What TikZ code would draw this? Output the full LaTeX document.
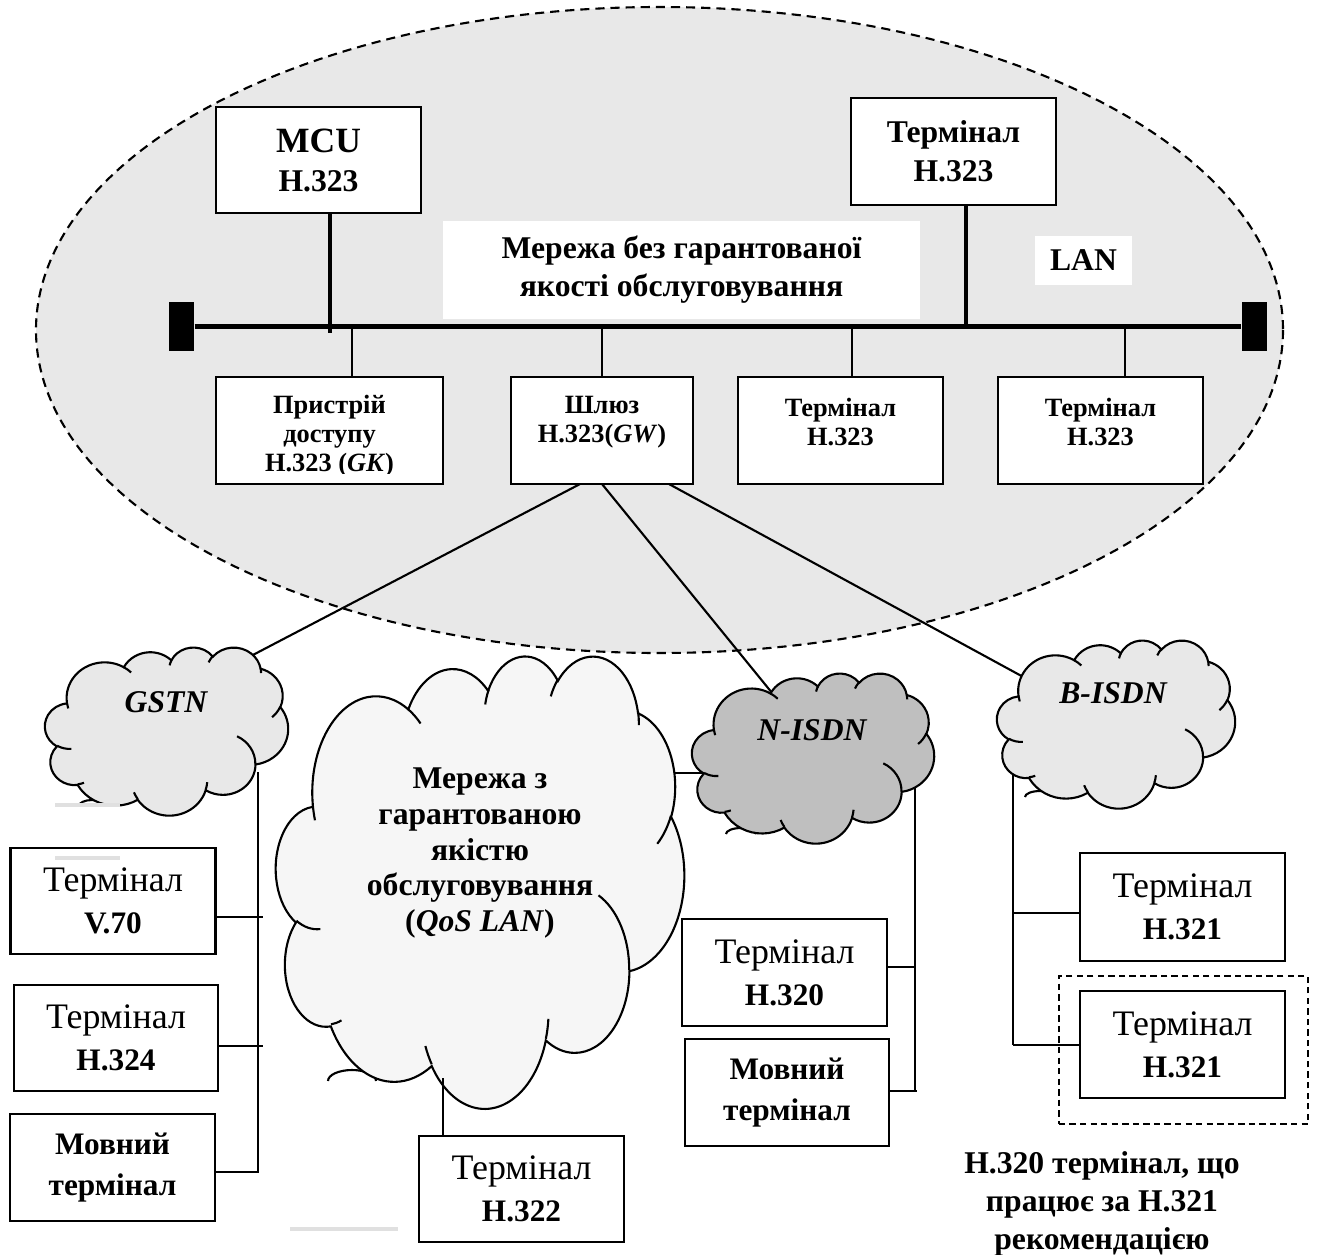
\documentclass[tikz,border=0pt]{standalone}
\usepackage{fontspec}
\setmainfont{Liberation Serif}
\usetikzlibrary{calc}

\definecolor{ellgray}{gray}{0.91}
\definecolor{lightcloud}{gray}{0.91}
\definecolor{darkcloud}{gray}{0.75}
\definecolor{palecloud}{gray}{0.965}
\definecolor{framegray}{gray}{0.88}

\newcommand\szMcu{\fontsize{10.1pt}{11.1pt}\selectfont}
\newcommand\szTop{\fontsize{9pt}{11.1pt}\selectfont}
\newcommand\szLbl{\fontsize{9pt}{10.8pt}\selectfont}
\newcommand\szLow{\fontsize{7.5pt}{8.3pt}\selectfont}
\newcommand\szReg{\fontsize{10.2pt}{11.9pt}\selectfont}
\newcommand\szBld{\fontsize{8.9pt}{11.9pt}\selectfont}
\newcommand\szCloud{\fontsize{9pt}{10.2pt}\selectfont}

% Office-style cloud: #1,#2 = top-left corner, #3,#4 = width, height, #5 = fill
\newcommand\officecloud[5]{%
  \pgfmathsetmacro\cloudxu{#3/4320}%
  \pgfmathsetmacro\cloudyu{#4/4320}%
  \begin{scope}[shift={(#1,#2)}, x=\cloudxu cm, y=-\cloudyu cm, line width=0.6pt]
    \filldraw[fill=#5] (3.900,14.370)
      arc[start angle=-187.747, delta angle=128.11, x radius=6.753, y radius=9.190]
      arc[start angle=-152.02, delta angle=106.57, x radius=5.333, y radius=7.267]
      arc[start angle=-153.50, delta angle=116.17, x radius=4.365, y radius=5.945]
      arc[start angle=-139.70, delta angle=129.49, x radius=4.857, y radius=6.595]
      arc[start angle=-74.77, delta angle=97.98, x radius=5.333, y radius=7.273]
      arc[start angle=-37.52, delta angle=119.38, x radius=6.775, y radius=9.220]
      arc[start angle=0.46, delta angle=121.51, x radius=5.785, y radius=7.867]
      arc[start angle=16.84, delta angle=129.38, x radius=6.752, y radius=9.215]
      arc[start angle=58.98, delta angle=91.21, x radius=7.720, y radius=10.543]
      arc[start angle=83.31, delta angle=139.79, x radius=4.360, y radius=5.918]
      arc[start angle=120.36, delta angle=143.75, x radius=4.345, y radius=5.945]
      -- cycle;
    \draw (4.693,26.177) arc[start angle=85.55, delta angle=34.81, x radius=4.345, y radius=5.945]
      (6.928,34.899) arc[start angle=68.24, delta angle=15.07, x radius=4.360, y radius=5.918]
      (16.478,39.090) arc[start angle=146.22, delta angle=12.26, x radius=6.752, y radius=9.215]
      (28.827,34.751) arc[start angle=4.74, delta angle=12.10, x radius=6.752, y radius=9.215]
      (34.129,22.954) arc[start angle=-64.03, delta angle=64.49, x radius=5.785, y radius=7.867]
      (41.798,15.354) arc[start angle=23.21, delta angle=26.44, x radius=5.333, y radius=7.273]
      (38.324,5.426) arc[start angle=-10.21, delta angle=11.03, x radius=4.857, y radius=6.595]
      (29.078,3.952) arc[start angle=-156.27, delta angle=16.57, x radius=4.857, y radius=6.595]
      (22.141,4.720) arc[start angle=-167.73, delta angle=14.23, x radius=4.365, y radius=5.945]
      (14.000,5.192) arc[start angle=-59.64, delta angle=13.91, x radius=6.753, y radius=9.190]
      (4.127,15.789) arc[start angle=163.19, delta angle=9.06, x radius=6.753, y radius=9.190];
  \end{scope}}

% small lobe peeking out under a cloud: #1,#2 = base centre, #3,#4 = radii
\newcommand\lobestub[4]{%
  \draw[line width=0.6pt] ($(#1,#2)+(-#3,0)$) arc[start angle=180, delta angle=180, x radius=#3, y radius=#4];}

\tikzset{
  box/.style={draw, line width=0.75pt, fill=white, inner sep=0pt, outer sep=0pt, align=center},
  conn/.style={line width=0.6pt},
  tap/.style={line width=0.9pt},
  whitelabel/.style={fill=white, inner sep=0pt, align=center},
}

\begin{document}
\begin{tikzpicture}[x=0.01cm, y=-0.01cm]
  \useasboundingbox (0,0) rectangle (1318,1254);
  \fill[white] (0,0) rectangle (1318,1254);

  % network without guaranteed quality
  \draw[fill=ellgray, dash pattern=on 2.6pt off 1.7pt, line width=0.6pt]
    (659.5,330) ellipse [x radius=623.5, y radius=323];

  \node[whitelabel, minimum width=4.77cm, minimum height=0.98cm, font=\bfseries\szLbl]
    (lanlabel) at (681.5,270) {Мережа без гарантованої\\якості обслуговування};
  \node[whitelabel, minimum width=0.97cm, minimum height=0.49cm, font=\bfseries\szLbl]
    (lan) at (1083.5,260.5) {LAN};

  % bus with terminators
  \node[fill=black, inner sep=0pt, minimum width=0.25cm, minimum height=0.49cm] (endL) at (181.5,326.5) {};
  \node[fill=black, inner sep=0pt, minimum width=0.25cm, minimum height=0.49cm] (endR) at (1254.5,326.5) {};
  \draw[line width=1.6pt] (endL.east) -- (endR.west);

  % upper devices
  \node[box, minimum width=2.05cm, minimum height=1.06cm, font=\bfseries\szTop]
    (mcu) at (318.5,160) {{\szMcu MCU}\\H.323};
  \node[box, minimum width=2.05cm, minimum height=1.07cm, font=\bfseries\szTop]
    (tr) at (953.5,151.5) {Термінал\\H.323};
  \coordinate (tapMcu) at (330,333);
  \coordinate (tapTr) at (966,327);
  \draw[tap] (tapMcu |- mcu.south) -- (tapMcu);
  \draw[tap] (tapTr |- tr.south) -- (tapTr);

  % lower devices
  \node[box, minimum width=2.27cm, minimum height=1.07cm] (gk) at (329.5,430.5) {};
  \node[box, minimum width=1.82cm, minimum height=1.07cm] (gw) at (602,430.5) {};
  \node[box, minimum width=2.05cm, minimum height=1.07cm] (t3) at (840.5,430.5) {};
  \node[box, minimum width=2.05cm, minimum height=1.07cm] (t4) at (1100.5,430.5) {};
  \begin{scope}
    \clip (216,377) rectangle (443,473);
    \node[font=\bfseries\szLow, align=center] (gktext) at (329.5,436) {Пристрій\\доступу\\H.323 (\textit{GK})};
  \end{scope}
  \node[font=\bfseries\szLow, align=center] (gwtext) at (602,422) {Шлюз\\H.323(\textit{GW})};
  \node[font=\bfseries\szLow, align=center] (t3text) at (840.5,422) {Термінал\\H.323};
  \node[font=\bfseries\szLow, align=center] (t4text) at (1100.5,422) {Термінал\\H.323};

  \coordinate (tapGk) at (352,327);
  \coordinate (tapGw) at (602,327);
  \coordinate (tapT3) at (852,327);
  \coordinate (tapT4) at (1125,327);
  \draw[conn] (tapGk) -- (tapGk |- gk.north);
  \draw[conn] (tapGw) -- (tapGw |- gw.north);
  \draw[conn] (tapT3) -- (tapT3 |- t3.north);
  \draw[conn] (tapT4) -- (tapT4 |- t4.north);

  % gateway links to the other networks
  \coordinate (gwA) at ($(gw.south)+(-22,0)$);
  \coordinate (gwC) at ($(gw.south)+(67,0)$);
  \coordinate (gstnIn) at (249,657);
  \coordinate (nisdnIn) at (777,699);
  \coordinate (bisdnIn) at (1027,679);
  \draw[conn] (gwA) -- (gstnIn);
  \draw[conn] (gw.south) -- (nisdnIn);
  \draw[conn] (gwC) -- (bisdnIn);

  % cloud-to-cloud and cloud-to-terminal links
  \coordinate (qosE) at (665,773);
  \coordinate (nisdnW) at (712,773);
  \draw[conn] (qosE) -- (nisdnW);
  \coordinate (gsTop) at (258,772);
  \coordinate (gsBot) at (258,1172);
  \draw[conn] (gsTop) -- (gsBot);
  \coordinate (niTop) at (915,784);
  \coordinate (niBot) at (915,1091);
  \draw[conn] (niTop) -- (niBot);
  \coordinate (biTop) at (1013,770);
  \coordinate (biBot) at (1013,1045);
  \draw[conn] (biTop) -- (biBot);
  \coordinate (qosS) at (443,1078);

  % lobes peeking out below the clouds
  \lobestub{92}{806}{13}{6}
  \lobestub{352}{1081}{24}{11}
  \lobestub{741}{834}{15}{6}
  \lobestub{1040}{797}{15}{6}

  % clouds
  \officecloud{45}{647}{243}{168}{lightcloud}
  \officecloud{276}{655}{408}{452}{palecloud}
  \officecloud{692}{673}{242}{170}{darkcloud}
  \officecloud{997}{640}{238}{168}{lightcloud}

  \node[font=\bfseries\itshape\szCloud] (gstn) at (166,702) {GSTN};
  \node[font=\bfseries\itshape\szCloud] (nisdn) at (812,730) {N-ISDN};
  \node[font=\bfseries\itshape\szCloud] (bisdn) at (1113,693) {B-ISDN};
  \node[font=\bfseries\szCloud, align=center] (qos) at (480,853)
    {Мережа з\\гарантованою\\якістю\\обслуговування\\(\textit{QoS LAN})};

  % terminals outside the LAN
  \node[box, minimum width=2.05cm, minimum height=1.06cm] (v70) at (113,901) {\szReg Термінал\\\szBld\bfseries V.70};
  \node[box, minimum width=2.04cm, minimum height=1.06cm] (h324) at (116,1038) {\szReg Термінал\\\szBld\bfseries H.324};
  \node[box, minimum width=2.05cm, minimum height=1.07cm, font=\bfseries\szBld] (mv1) at (112.5,1167.5) {Мовний\\термінал};
  \node[box, minimum width=2.05cm, minimum height=1.06cm] (h322) at (521.5,1189) {\szReg Термінал\\\szBld\bfseries H.322};
  \node[box, minimum width=2.05cm, minimum height=1.07cm] (h320) at (784.5,972.5) {\szReg Термінал\\\szBld\bfseries H.320};
  \node[box, minimum width=2.04cm, minimum height=1.07cm, font=\bfseries\szBld] (mv2) at (787,1092.5) {Мовний\\термінал};
  \node[draw, line width=0.6pt, dash pattern=on 1.8pt off 1.2pt, inner sep=0pt,
        minimum width=2.49cm, minimum height=1.48cm] (frame321) at (1183.5,1050) {};
  \node[box, minimum width=2.05cm, minimum height=1.08cm] (h321a) at (1182.5,907) {\szReg Термінал\\\szBld\bfseries H.321};
  \node[box, minimum width=2.05cm, minimum height=1.07cm] (h321b) at (1182.5,1044.5) {\szReg Термінал\\\szBld\bfseries H.321};

  \draw[conn] (qosS) -- (qosS |- h322.north);

  \coordinate (gs1) at (263,917);
  \coordinate (gs2) at (263,1046);
  \coordinate (gs3) at (259,1172);
  \draw[conn] (gs1 -| v70.east) -- (gs1);
  \draw[conn] (gs2 -| h324.east) -- (gs2);
  \draw[conn] (gs3 -| mv1.east) -- (gs3);

  \coordinate (ni1) at (915,967);
  \coordinate (ni2) at (917,1091);
  \draw[conn] (ni1 -| h320.east) -- (ni1);
  \draw[conn] (ni2 -| mv2.east) -- (ni2);

  \coordinate (bi1) at (1013,913);
  \coordinate (bi2) at (1013,1045);
  \draw[conn] (bi1) -- (bi1 -| h321a.west);
  \draw[conn] (bi2) -- (bi2 -| h321b.west);

  % faint frame edges
  \draw[framegray, line width=1.1pt] (55,805) -- (120,805);
  \draw[framegray, line width=1.1pt] (55,858) -- (120,858);
  \draw[framegray, line width=1.1pt] (290,1229) -- (398,1229);

  \node[font=\bfseries\szLbl, align=center] (note) at (1102,1204)
    {H.320 термінал, що\\працює за H.321\\рекомендацією};
\end{tikzpicture}
\end{document}
